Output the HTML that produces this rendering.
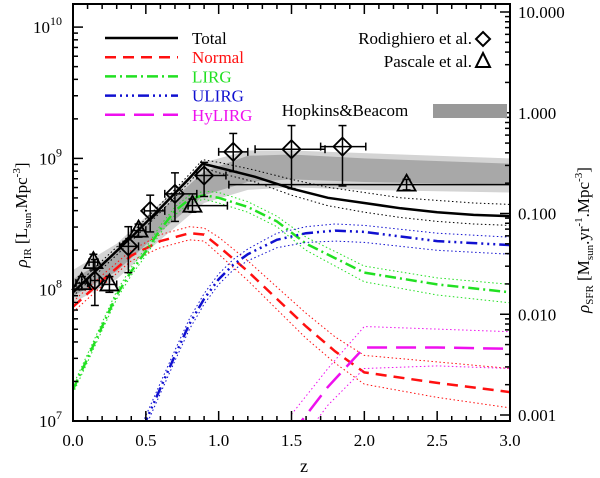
<!DOCTYPE html>
<html><head><meta charset="utf-8"><style>
html,body{margin:0;padding:0;background:#fff;}
svg{display:block;font-family:"Liberation Serif",serif;}
</style></head><body>
<svg id="chart" width="600" height="478" viewBox="0 0 600 478">
<defs><clipPath id="plotclip"><rect x="73" y="4" width="437" height="417"/></clipPath></defs>
<g id="bands" clip-path="url(#plotclip)"></g>
<g id="series" clip-path="url(#plotclip)"></g>
<g id="points"></g>
<g id="axes"></g>
<g id="legend"></g>
</svg>
<script>
// ---- data (log10 of rho_IR) ----
const bandZ = [0, 0.3, 0.6, 0.9, 1.2, 1.5, 2.0, 3.0];
const lightLo = [7.90, 8.08, 8.38, 8.66, 8.76, 8.78, 8.76, 8.74];
const lightHi = [8.15, 8.35, 8.66, 8.97, 9.06, 9.06, 9.04, 9.00];
const darkLo = [7.95, 8.14, 8.44, 8.72, 8.82, 8.84, 8.82, 8.80];
const darkHi = [8.08, 8.28, 8.60, 8.90, 9.02, 9.03, 9.00, 8.96];

const totalZ = [0, 0.2, 0.4, 0.6, 0.8, 0.89, 1.0, 1.25, 1.5, 1.75, 2.0, 2.25, 2.5, 2.75, 3.0];
const totalVal = [7.98, 8.19, 8.40, 8.62, 8.85, 8.96, 8.93, 8.86, 8.77, 8.70, 8.66, 8.62, 8.59, 8.57, 8.56];
const totalHi = [8.01, 8.22, 8.43, 8.65, 8.88, 8.99, 8.97, 8.91, 8.84, 8.78, 8.74, 8.70, 8.68, 8.66, 8.65];
const totalLo = [7.95, 8.16, 8.37, 8.59, 8.82, 8.93, 8.89, 8.82, 8.72, 8.64, 8.59, 8.55, 8.52, 8.50, 8.49];

const normalZ = [0, 0.2, 0.4, 0.6, 0.8, 0.9, 1.0, 1.2, 1.4, 1.6, 1.8, 2.0, 2.5, 3.0];
const normalVal = [7.87, 8.07, 8.26, 8.37, 8.43, 8.42, 8.33, 8.14, 7.93, 7.72, 7.53, 7.37, 7.29, 7.22];
const normalHi = [7.91, 8.11, 8.30, 8.42, 8.48, 8.47, 8.40, 8.22, 8.02, 7.82, 7.64, 7.50, 7.45, 7.40];
const normalLo = [7.83, 8.03, 8.22, 8.32, 8.38, 8.37, 8.27, 8.07, 7.85, 7.63, 7.44, 7.28, 7.18, 7.10];

const lirgZ = [0, 0.1, 0.2, 0.3, 0.4, 0.5, 0.6, 0.7, 0.8, 0.9, 1.0, 1.2, 1.4, 1.6, 1.8, 2.0, 2.5, 3.0];
const lirgVal = [7.24, 7.48, 7.72, 7.96, 8.14, 8.29, 8.46, 8.60, 8.69, 8.72, 8.70, 8.63, 8.52, 8.35, 8.24, 8.13, 8.04, 7.98];
const lirgHi = [7.27, 7.51, 7.75, 7.99, 8.17, 8.32, 8.49, 8.63, 8.72, 8.75, 8.74, 8.67, 8.56, 8.40, 8.29, 8.18, 8.09, 8.04];
const lirgLo = [7.21, 7.45, 7.69, 7.93, 8.11, 8.26, 8.43, 8.57, 8.66, 8.69, 8.66, 8.59, 8.48, 8.30, 8.18, 8.06, 7.96, 7.90];

const ulirgZ = [0.48, 0.6, 0.7, 0.8, 0.9, 1.0, 1.1, 1.2, 1.4, 1.6, 1.8, 2.0, 2.5, 3.0];
const ulirgVal = [6.95, 7.25, 7.50, 7.74, 7.93, 8.08, 8.19, 8.27, 8.38, 8.43, 8.45, 8.44, 8.37, 8.34];
const ulirgHi = [6.99, 7.29, 7.54, 7.78, 7.97, 8.12, 8.23, 8.31, 8.43, 8.48, 8.50, 8.49, 8.43, 8.40];
const ulirgLo = [6.91, 7.21, 7.46, 7.70, 7.89, 8.04, 8.15, 8.22, 8.32, 8.36, 8.37, 8.36, 8.30, 8.27];

const hylirgZ = [1.5, 1.75, 2.0, 2.5, 3.0];
const hylirgVal = [6.90, 7.26, 7.56, 7.56, 7.55];
const hylirgHi = [7.05, 7.40, 7.72, 7.70, 7.68];
const hylirgLo = [6.75, 7.12, 7.40, 7.42, 7.40];

const rodZ = [0.15, 0.38, 0.53, 0.70, 0.90, 1.10, 1.50, 1.85];
const rodVal = [8.07, 8.33, 8.60, 8.73, 8.87, 9.05, 9.07, 9.09];
const rodYHi = [8.23, 8.48, 8.72, 8.89, 8.97, 9.19, 9.25, 9.25];
const rodYLo = [7.88, 8.13, 8.44, 8.52, 8.71, 8.90, 8.77, 8.79];
const rodZLo = [0.12, 0.32, 0.49, 0.63, 0.85, 1.00, 1.25, 1.70];
const rodZHi = [0.18, 0.45, 0.63, 0.85, 1.05, 1.20, 1.73, 2.01];

const pasZ = [0.06, 0.14, 0.25, 0.45, 0.82, 2.29];
const pasVal = [8.05, 8.21, 8.04, 8.45, 8.64, 8.80];
const pasYHi = [8.10, 8.27, 8.10, 8.50, 8.69, 8.84];
const pasYLo = [8.00, 8.15, 7.98, 8.40, 8.59, 8.76];
const pasZLo = [0.02, 0.11, 0.20, 0.40, 0.79, 1.07];
const pasZHi = [0.10, 0.17, 0.30, 0.50, 1.06, 3.00];

const xTicks = [0.0, 0.5, 1.0, 1.5, 2.0, 2.5, 3.0];
const xTickLabels = ["0.0", "0.5", "1.0", "1.5", "2.0", "2.5", "3.0"];
const yDecades = [7, 8, 9, 10];
const rDecades = [1, 0, -1, -2, -3];
const rLabels = ["10.000", "1.000", "0.100", "0.010", "0.001"];

// ---- scales ----
const X0 = 73, X1 = 510, YB = 421, YT = 4;
function xs(z) { return X0 + z * (X1 - X0) / 3; }
function ys(l) { return YB - (l - 7) * 131.3; }
function yr(l) { return 12 + (1 - l) * (415 - 12) / 4; }
const NS = "http://www.w3.org/2000/svg";
function mk(tag, attrs, parent) {
  const e = document.createElementNS(NS, tag);
  for (const k in attrs) e.setAttribute(k, attrs[k]);
  parent.appendChild(e);
  return e;
}
function pts(zs, vs) { return zs.map((z, i) => xs(z).toFixed(1) + "," + ys(vs[i]).toFixed(1)).join(" "); }

// bands
const bandG = document.getElementById("bands");
function band(lo, hi, fill, name) {
  const top = bandZ.map((z, i) => xs(z) + "," + ys(hi[i]));
  const bot = bandZ.map((z, i) => xs(z) + "," + ys(lo[i])).reverse();
  const p = mk("polygon", { points: top.concat(bot).join(" "), fill: fill }, bandG);
  
  
}
band(lightLo, lightHi, "#d4d4d4", "light-band");
band(darkLo, darkHi, "#a8a8a8", "dark-band");

// series
const serG = document.getElementById("series");
function series(zs, v, hi, lo, color, dash, name) {
  [hi, lo].forEach(b => {
    const d = mk("polyline", { points: pts(zs, b), fill: "none", stroke: color, "stroke-width": 1, "stroke-dasharray": "1.5,2.5" }, serG);
    
    
  });
  const l = mk("polyline", { points: pts(zs, v), fill: "none", stroke: color, "stroke-width": 2.5 }, serG);
  if (dash) l.setAttribute("stroke-dasharray", dash);
  
  
}
series(normalZ, normalVal, normalHi, normalLo, "#ff1010", "11,7", "normal");
series(lirgZ, lirgVal, lirgHi, lirgLo, "#22e022", "11,4,2,4", "lirg");
series(ulirgZ, ulirgVal, ulirgHi, ulirgLo, "#1010d0", "11,4,2,4,2,4,2,4", "ulirg");
series(hylirgZ, hylirgVal, hylirgHi, hylirgLo, "#ee10ee", "20,9", "hylirg");
series(totalZ, totalVal, totalHi, totalLo, "#000", null, "total");

// points
const ptG = document.getElementById("points");
function errbars(zs, v, yh, yl, zl, zh, name) {
  zs.forEach((z, i) => {
    const g = mk("g", { stroke: "#000", "stroke-width": 1.5, fill: "none" }, ptG);
    
    
    const x = xs(z), y = ys(v[i]);
    mk("line", { x1: x, x2: x, y1: ys(yh[i]), y2: ys(yl[i]) }, g);
    mk("line", { x1: x - 4, x2: x + 4, y1: ys(yh[i]), y2: ys(yh[i]) }, g);
    mk("line", { x1: x - 4, x2: x + 4, y1: ys(yl[i]), y2: ys(yl[i]) }, g);
    mk("line", { x1: xs(zl[i]), x2: xs(zh[i]), y1: y, y2: y }, g);
    mk("line", { x1: xs(zl[i]), x2: xs(zl[i]), y1: y - 4, y2: y + 4 }, g);
    mk("line", { x1: xs(zh[i]), x2: xs(zh[i]), y1: y - 4, y2: y + 4 }, g);
  });
}
errbars(rodZ, rodVal, rodYHi, rodYLo, rodZLo, rodZHi, "rodighiero");
errbars(pasZ, pasVal, pasYHi, pasYLo, pasZLo, pasZHi, "pascale");
rodZ.forEach((z, i) => {
  const x = xs(z), y = ys(rodVal[i]);
  const d = mk("polygon", { points: `${x},${y - 9} ${x + 9},${y} ${x},${y + 9} ${x - 9},${y}`, fill: "none", stroke: "#000", "stroke-width": 1.8 }, ptG);
  
  
});
pasZ.forEach((z, i) => {
  const x = xs(z), y = ys(pasVal[i]);
  const t = mk("polygon", { points: `${x},${y - 10} ${x + 9},${y + 6} ${x - 9},${y + 6}`, fill: "none", stroke: "#000", "stroke-width": 1.8 }, ptG);
  
  
});

// axes
const ax = document.getElementById("axes");
mk("rect", { x: X0, y: YT, width: X1 - X0, height: YB - YT, fill: "none", stroke: "#000", "stroke-width": 2 }, ax);
for (let k = 0; k <= 30; k++) {
  const z = k / 10, x = xs(z), len = (k % 5 === 0) ? 10 : 5;
  mk("line", { x1: x, x2: x, y1: YB, y2: YB - len, stroke: "#000", "stroke-width": 1.5 }, ax);
  mk("line", { x1: x, x2: x, y1: YT, y2: YT + len, stroke: "#000", "stroke-width": 1.5 }, ax);
}
xTicks.forEach((z, i) => {
  const t = mk("text", { x: xs(z), y: 446, "font-size": 17, "text-anchor": "middle" }, ax);
  t.textContent = xTickLabels[i];
  
  
});
for (let d = 7; d <= 10; d++) {
  for (let m = 1; m <= 9; m++) {
    const l = d + Math.log10(m);
    if (l > 10.17) break;
    const y = ys(l), len = m === 1 ? 10 : 5;
    mk("line", { x1: X0, x2: X0 + len, y1: y, y2: y, stroke: "#000", "stroke-width": 1.5 }, ax);
  }
}
yDecades.forEach(d => {
  const t = mk("text", { x: 62, y: ys(d) + 6, "font-size": 17, "text-anchor": "end" }, ax);
  t.innerHTML = '10<tspan dy="-8" font-size="12">' + d + '</tspan>';
  
  
});
for (let d = -3; d <= 1; d++) {
  for (let m = 1; m <= 9; m++) {
    const l = d + Math.log10(m);
    if (l > 1.01) break;
    const y = yr(l), len = m === 1 ? 10 : 5;
    mk("line", { x1: X1, x2: X1 - len, y1: y, y2: y, stroke: "#000", "stroke-width": 1.5 }, ax);
  }
}
rDecades.forEach((d, i) => {
  const t = mk("text", { x: 518, y: yr(d) + 6, "font-size": 17 }, ax);
  t.textContent = rLabels[i];
  
  
});
</script>
<svg width="0" height="0"></svg>
<script>
const svg = document.getElementById("chart");
const NS2 = "http://www.w3.org/2000/svg";
function addText(html, attrs, name) {
  const t = document.createElementNS(NS2, "text");
  for (const k in attrs) t.setAttribute(k, attrs[k]);
  t.innerHTML = html;
  
  
  svg.appendChild(t);
  return t;
}
addText('z', { x: 304, y: 472, "font-size": 18, "text-anchor": "middle" }, "x-axis-title");
addText('<tspan font-style="italic">ρ</tspan><tspan font-size="11" dy="4">IR</tspan><tspan dy="-4"> [L</tspan><tspan font-size="11" dy="4">sun</tspan><tspan dy="-4">.Mpc</tspan><tspan font-size="11" dy="-7">-3</tspan><tspan dy="7">]</tspan>',
  { x: 0, y: 0, "font-size": 17, "text-anchor": "middle", transform: "translate(27,215) rotate(-90)" }, "y-axis-title-left");
addText('<tspan font-style="italic">ρ</tspan><tspan font-size="11" dy="4">SFR</tspan><tspan dy="-4"> [M</tspan><tspan font-size="11" dy="4">sun</tspan><tspan dy="-4">.yr</tspan><tspan font-size="11" dy="-7">-1</tspan><tspan dy="7">.Mpc</tspan><tspan font-size="11" dy="-7">-3</tspan><tspan dy="7">]</tspan>',
  { x: 0, y: 0, "font-size": 17, "text-anchor": "middle", transform: "translate(589,240) rotate(-90)" }, "y-axis-title-right");

const legNames = ["Total", "Normal", "LIRG", "ULIRG", "HyLIRG"];
const legColors = ["#000", "#ff1010", "#22e022", "#1010d0", "#ee10ee"];
const legDash = ["", "11,7", "11,4,2,4", "11,4,2,4,2,4,2,4", "20,9"];
legNames.forEach((n, i) => {
  const y = 38 + i * 19.2;
  const l = document.createElementNS(NS2, "line");
  l.setAttribute("x1", 105); l.setAttribute("x2", 178);
  l.setAttribute("y1", y); l.setAttribute("y2", y);
  l.setAttribute("stroke", legColors[i]); l.setAttribute("stroke-width", 2.5);
  if (legDash[i]) l.setAttribute("stroke-dasharray", legDash[i]);
  
  
  svg.appendChild(l);
  addText(n, { x: 192, y: y + 6, "font-size": 17, fill: legColors[i] }, "legend-entry");
});
addText('Rodighiero et al.', { x: 472, y: 44, "font-size": 17, "text-anchor": "end" }, "legend-rodighiero");
addText('Pascale et al.', { x: 472, y: 67, "font-size": 17, "text-anchor": "end" }, "legend-pascale");
const dm = document.createElementNS(NS2, "polygon");
dm.setAttribute("points", "483,32 490,39 483,46 476,39");
dm.setAttribute("fill", "none"); dm.setAttribute("stroke", "#000"); dm.setAttribute("stroke-width", 2);


svg.appendChild(dm);
const tr = document.createElementNS(NS2, "polygon");
tr.setAttribute("points", "483,53 490,67 476,67");
tr.setAttribute("fill", "none"); tr.setAttribute("stroke", "#000"); tr.setAttribute("stroke-width", 2);


svg.appendChild(tr);
addText('Hopkins&amp;Beacom', { x: 345, y: 116, "font-size": 17, "text-anchor": "middle" }, "legend-hopkins-beacom");
const hb = document.createElementNS(NS2, "rect");
hb.setAttribute("x", 433); hb.setAttribute("y", 104); hb.setAttribute("width", 74); hb.setAttribute("height", 14);
hb.setAttribute("fill", "#999");


svg.appendChild(hb);
</script>
</body></html>
